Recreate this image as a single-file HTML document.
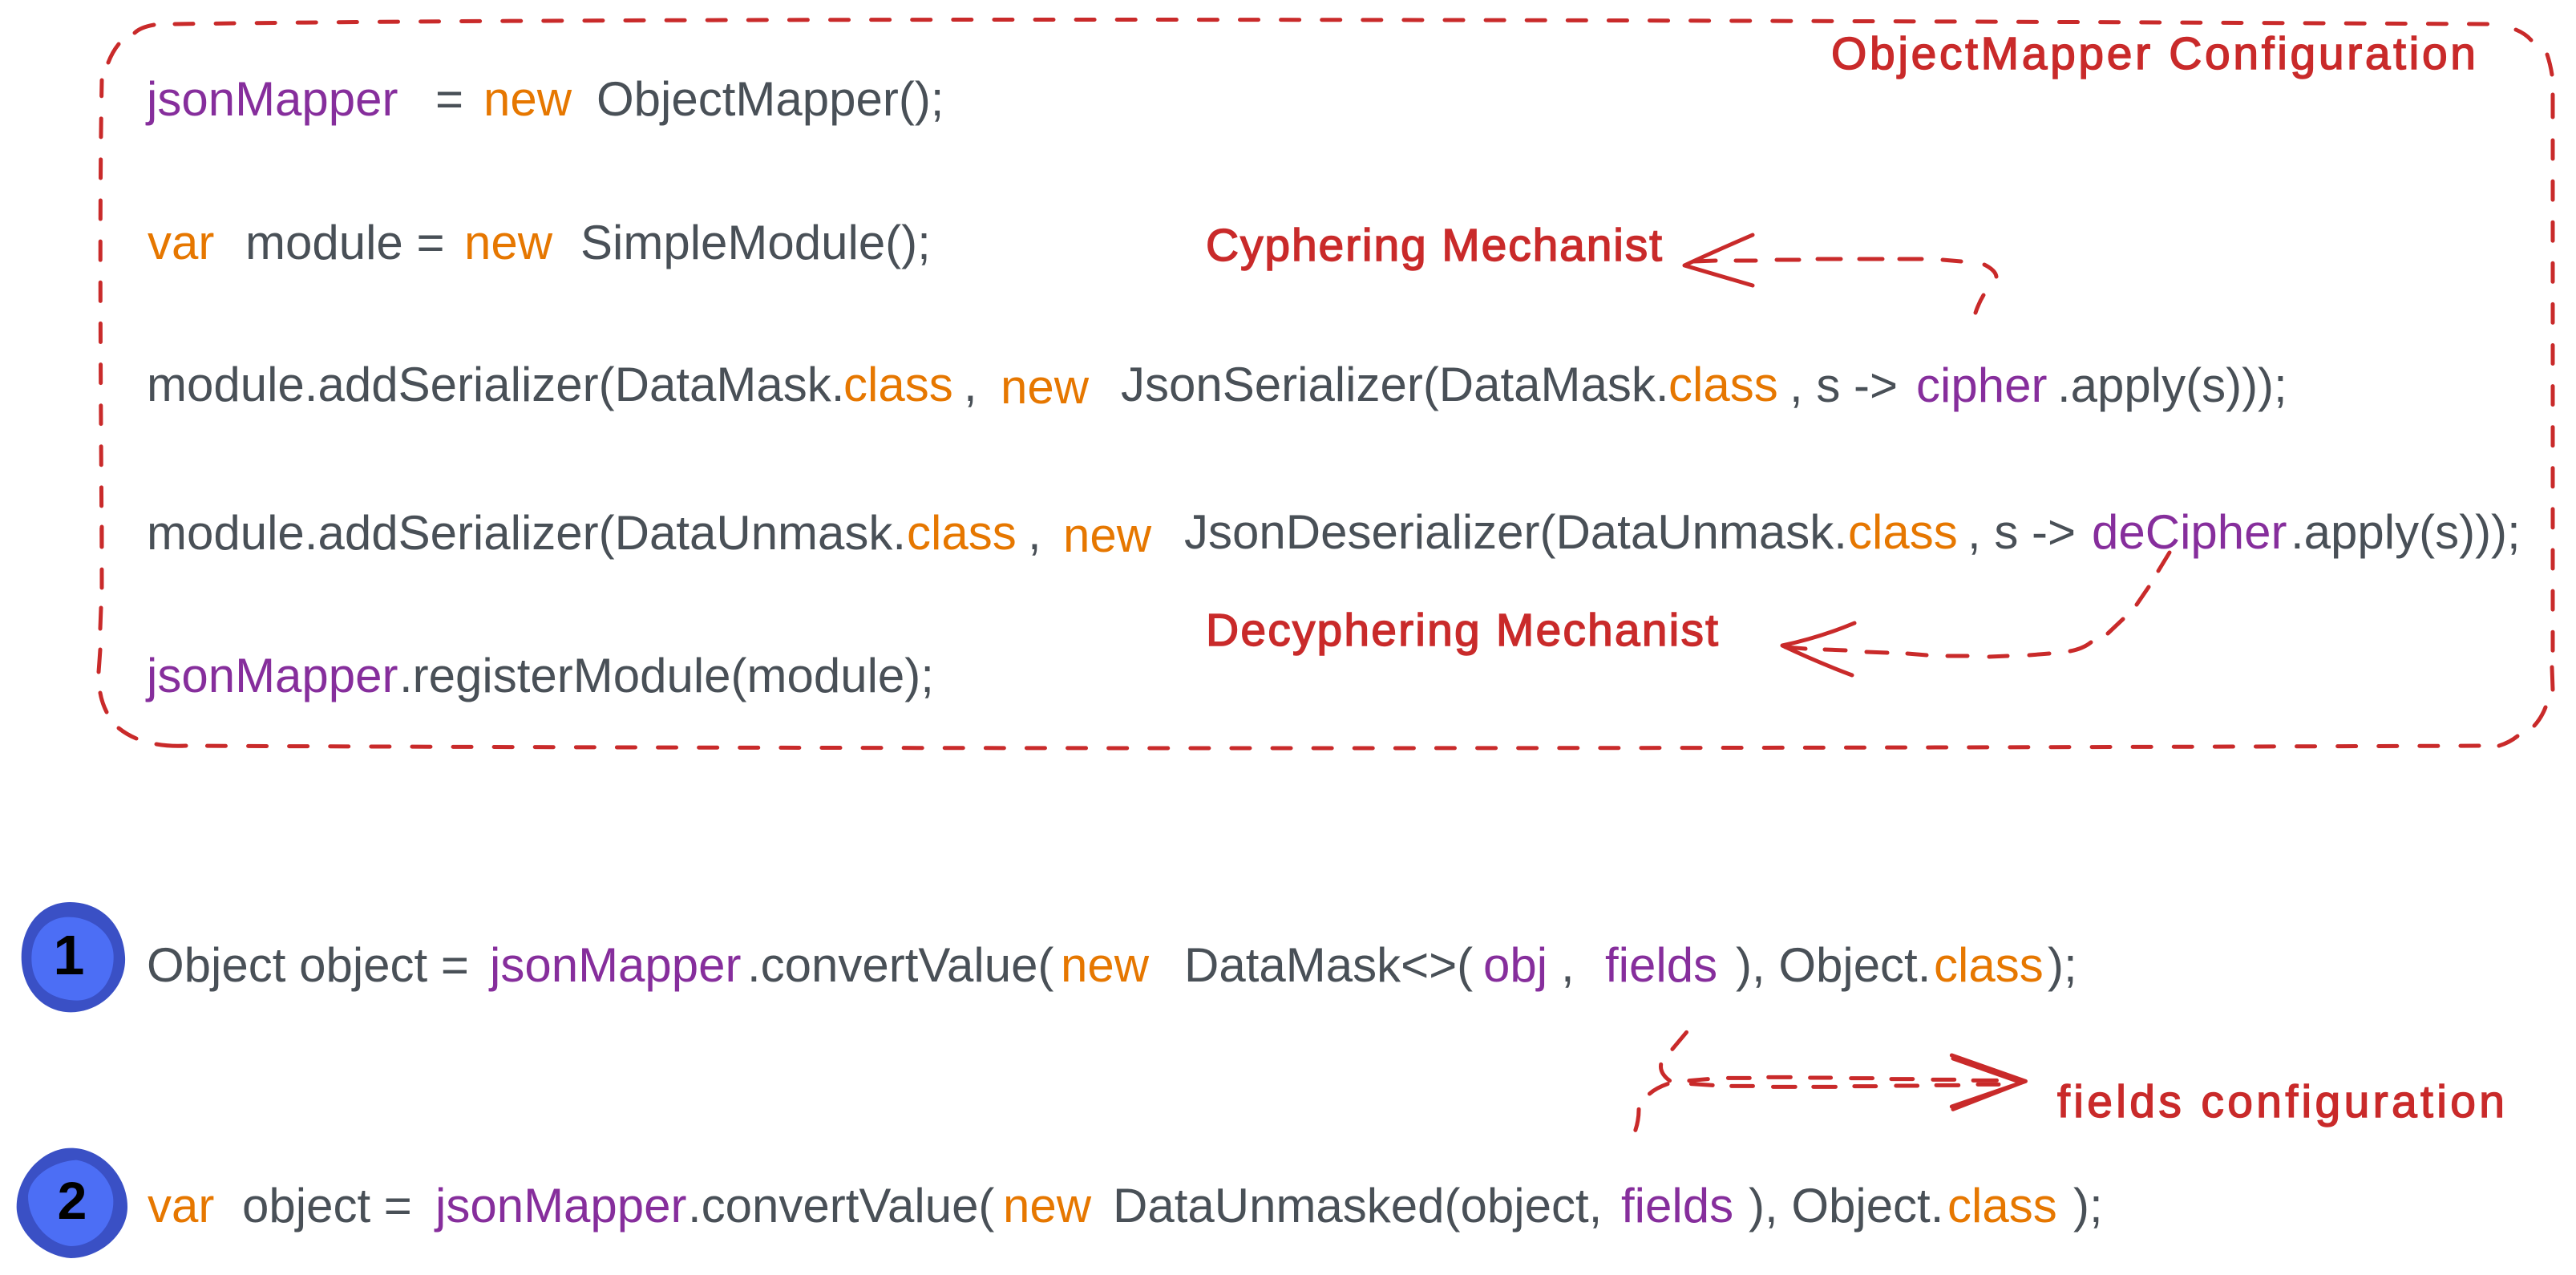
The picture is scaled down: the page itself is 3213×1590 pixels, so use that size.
<!DOCTYPE html>
<html><head><meta charset="utf-8"><style>
html,body{margin:0;padding:0;background:#fff;width:3213px;height:1590px;overflow:hidden}
svg{display:block}
.t text{font-family:"Liberation Sans",sans-serif;font-size:60px;fill:#495057;white-space:pre}
.t .o{fill:#e67700}.t .p{fill:#862e9c}
.h text{font-family:"Liberation Sans",sans-serif;font-size:57px;fill:#c92a2a;stroke:#c92a2a;stroke-width:1.5}
.l path{fill:none;stroke:#c92a2a;stroke-width:5;stroke-linecap:round;stroke-linejoin:round}
.d path{stroke-dasharray:23 28.1}
.z path{vector-effect:non-scaling-stroke}
</style></head><body>
<svg width="3213" height="1590" viewBox="0 0 3213 1590" xmlns="http://www.w3.org/2000/svg">
<rect width="3213" height="1590" fill="#fff"/>
<g class="l d">
<path d="M218 30 Q1000 19 3108 30"/>
<path d="M3184 175 L3184 835"/>
<path d="M3092 930 Q1500 936 235 930"/>
<path d="M127 733 C127 600 123 300 127 100"/>
</g>
<g class="l">
<path d="M168 41 Q175 34 192 31"/>
<path d="M3138 37 Q3150 42 3157 50"/>
<path d="M3177 68 Q3181 80 3183 93"/>
<path d="M3184 118 L3184 146"/>
<path d="M3183 832 L3184 860"/>
<path d="M3175 882 Q3170 895 3161 905"/>
<path d="M3140 918 Q3130 926 3117 930"/>
<path d="M123 838 Q124 825 125 810"/>
<path d="M125 784 L126 758"/>
<path d="M127 682 L127 657"/>
<path d="M125 864 Q127 876 133 888"/>
<path d="M148 908 Q158 916 170 921"/>
<path d="M195 928 Q212 931 232 930"/>
<path d="M148 55 Q140 65 135 78"/>
<!-- cyphering arrow -->
<path d="M2464 390 Q2468 378 2474 368"/>
<path d="M2490 345 Q2489 337 2475 330"/>
<path d="M2446 326 L2423 324"/>
<path d="M2397 323 L2369 323"/>
<path d="M2348 323 L2319 323"/>
<path d="M2296 323 L2267 323"/>
<path d="M2244 324 L2216 324"/>
<path d="M2190 325 L2165 325"/>
<path d="M2140 325 L2112 326"/>
<path d="M2186 293 Q2135 315 2101 331 L2186 356" stroke-width="5.5"/>
<!-- decyphering arrow -->
<path d="M2706 689 L2692 712"/>
<path d="M2680 732 L2665 754"/>
<path d="M2648 772 L2629 790"/>
<path d="M2608 801 Q2598 809 2582 812"/>
<path d="M2556 815 L2531 817"/>
<path d="M2504 818 L2481 819"/>
<path d="M2454 818 L2429 818"/>
<path d="M2403 817 L2379 815"/>
<path d="M2354 814 L2328 813"/>
<path d="M2302 811 L2276 810"/>
<path d="M2252 809 L2227 807"/>
<path d="M2313 777 Q2270 795 2223 805 Q2265 825 2310 842" stroke-width="5.5"/>
</g>
<g class="l z" transform="translate(1900 1250) scale(.8375 .3333)">
<path d="M243 112 L222 175"/>
<path d="M205 232 Q203 265 218 293"/>
<path d="M215 305 Q198 320 188 342"/>
<path d="M172 400 Q172 440 167 478"/>
<path d="M247 293 L275 287"/><path d="M250 305 L282 310"/>
<path d="M305 283 L337 283"/><path d="M365 280 L398 280"/><path d="M427 282 L458 282"/><path d="M488 284 L520 284"/><path d="M548 287 L580 287"/><path d="M610 289 L642 289"/><path d="M670 292 L705 292"/>
<path d="M310 313 L342 313"/><path d="M372 316 L405 316"/><path d="M432 316 L465 316"/><path d="M493 314 L525 314"/><path d="M555 312 L587 312"/><path d="M615 310 L648 310"/><path d="M677 307 L708 307"/>
<path d="M638 198 L748 295 L638 390"/>
<path d="M640 210 L742 300 L640 400"/>
</g>
<g transform="translate(0 1100) scale(.33333)">
<path fill="#3a50c5" d="M262 75 C370 75 460 150 468 280 C474 390 380 487 265 487 C160 487 80 400 80 280 C80 170 150 75 262 75Z"/>
<path fill="#4c6ef5" d="M250 131 C340 128 425 190 425 280 C425 370 370 443 285 443 C190 440 118 390 118 285 C118 200 170 135 250 131Z"/>
<path fill="#3a50c5" d="M265 995 C380 995 477 1100 477 1215 C477 1320 370 1407 265 1407 C160 1400 62 1310 62 1215 C62 1100 160 995 265 995Z"/>
<path fill="#4c6ef5" d="M285 1040 C360 1050 424 1120 424 1195 C424 1290 350 1362 265 1362 C180 1355 105 1270 105 1175 C110 1100 200 1045 285 1040Z"/>
</g>
<text x="86" y="1215" text-anchor="middle" font-family="Liberation Sans,sans-serif" font-size="70" font-weight="700" fill="#000">1</text>
<text x="90" y="1520" text-anchor="middle" font-family="Liberation Sans,sans-serif" font-size="66" font-weight="700" fill="#000">2</text>
<g class="t">
<text x="183" y="144" class="p">jsonMapper</text><text x="543" y="144">=</text><text x="603" y="144" class="o">new</text><text x="744" y="144">ObjectMapper();</text>
<text x="184" y="323" class="o">var</text><text x="306" y="323">module =</text><text x="579" y="323" class="o">new</text><text x="724" y="323">SimpleModule();</text>
<text x="183" y="500">module.addSerializer(DataMask.</text><text x="1052" y="500" class="o">class</text><text x="1202" y="500">,</text><text x="1248" y="503" class="o">new</text><text x="1398" y="500">JsonSerializer(DataMask.</text><text x="2081" y="500" class="o">class</text><text x="2232" y="501">, s -&gt;</text><text x="2390" y="501" class="p">cipher</text><text x="2566" y="501">.apply(s)));</text>
<text x="183" y="685">module.addSerializer(DataUnmask.</text><text x="1131" y="685" class="o">class</text><text x="1282" y="685">,</text><text x="1326" y="688" class="o">new</text><text x="1477" y="684">JsonDeserializer(DataUnmask.</text><text x="2305" y="684" class="o">class</text><text x="2454" y="684">, s -&gt;</text><text x="2609" y="684" class="p">deCipher</text><text x="2857" y="684">.apply(s)));</text>
<text x="183" y="863" class="p">jsonMapper</text><text x="498" y="863">.registerModule(module);</text>
<text x="183" y="1224">Object object =</text><text x="611" y="1224" class="p">jsonMapper</text><text x="932" y="1224">.convertValue(</text><text x="1323" y="1224" class="o">new</text><text x="1477" y="1224">DataMask&lt;&gt;(</text><text x="1850" y="1224" class="p">obj</text><text x="1947" y="1224">,</text><text x="2002" y="1224" class="p">fields</text><text x="2165" y="1224">), Object.</text><text x="2412" y="1224" class="o">class</text><text x="2554" y="1224">);</text>
<text x="184" y="1524" class="o">var</text><text x="302" y="1524">object =</text><text x="543" y="1524" class="p">jsonMapper</text><text x="858" y="1524">.convertValue(</text><text x="1251" y="1524" class="o">new</text><text x="1388" y="1524">DataUnmasked(object,</text><text x="2022" y="1524" class="p">fields</text><text x="2181" y="1524">), Object.</text><text x="2429" y="1524" class="o">class</text><text x="2586" y="1524">);</text>
</g>
<g class="h">
<text x="2284" y="86" textLength="804" lengthAdjust="spacing">ObjectMapper Configuration</text>
<text x="1504" y="325" textLength="569" lengthAdjust="spacing">Cyphering Mechanist</text>
<text x="1504" y="805" textLength="639" lengthAdjust="spacing">Decyphering Mechanist</text>
<text x="2566" y="1393" textLength="558" lengthAdjust="spacing">fields configuration</text>
</g>
</svg>
</body></html>
